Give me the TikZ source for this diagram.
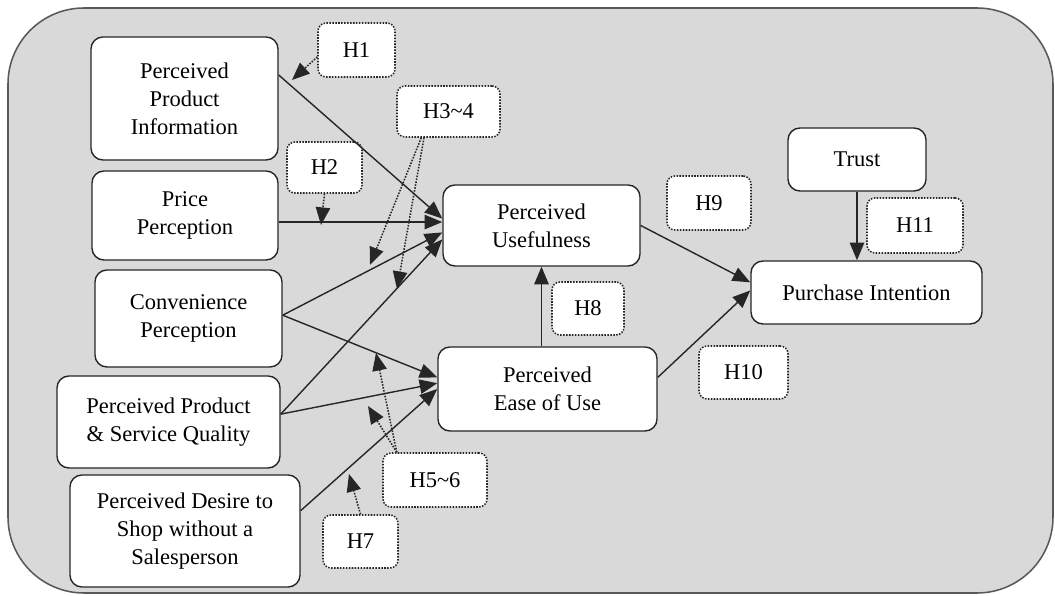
\documentclass[tikz,border=0pt]{standalone}
\usepackage{fontspec}
\setmainfont{Liberation Serif}
\usetikzlibrary{arrows.meta}

\tikzset{
  construct/.style={rectangle, rounded corners=0.3cm, draw=black!85, line width=1pt,
    fill=white, align=center, inner sep=2pt},
  hyp/.style={rectangle, rounded corners=0.2cm, draw=black!85, densely dotted,
    line width=1.1pt, fill=white, inner sep=2pt},
  link/.style={draw, black!85, line width=1pt, -{Triangle[length=4.4mm,width=3.6mm]}},
  hlink/.style={draw, black!85, densely dotted, line width=1.1pt,
    -{Triangle[length=4.4mm,width=3.6mm]}}
}

\begin{document}
\begin{tikzpicture}[x=0.025cm, y={(0cm,-0.025cm)}, font=\fontsize{16}{20}\selectfont]

      \useasboundingbox (0,0) rectangle (1055,596);
      \draw[draw=black!65, line width=1.1pt, fill=black!15, rounded corners=1.9cm]
        (8,8) rectangle (1053,593);

      \begin{scope}[every node/.style={construct}]
        \node[minimum width=4.675cm, minimum height=3.075cm] (ppi)   at (184.5,98.5) {Perceived\\Product\\Information};
        \node[minimum width=4.65cm,  minimum height=2.225cm] (price) at (185,215.5)  {Price\\Perception};
        \node[minimum width=4.675cm, minimum height=2.425cm] (conv)  at (188.5,318.5) {Convenience\\Perception};
        \node[minimum width=5.575cm, minimum height=2.3cm]   (ppsq)  at (168.5,422)  {Perceived Product\\\& Service Quality};
        \node[minimum width=5.75cm,  minimum height=2.8cm]   (pdss)  at (185,531)    {Perceived Desire to\\Shop without a\\Salesperson};
        \node[minimum width=4.925cm, minimum height=2.025cm] (pu)    at (541.5,225.5) {Perceived\\Usefulness};
        \node[minimum width=5.475cm, minimum height=2.1cm]   (peou)  at (547.5,389)  {Perceived\\Ease of Use};
        \node[minimum width=3.45cm,  minimum height=1.575cm] (trust) at (857,159.5)  {Trust};
        \node[minimum width=5.775cm, minimum height=1.575cm] (pi)    at (866.5,292.5) {Purchase Intention};
      \end{scope}

      \begin{scope}[every node/.style={hyp}]
        \node[minimum width=1.925cm, minimum height=1.35cm]  (h1)  at (356.5,50)   {H1};
        \node[minimum width=1.875cm, minimum height=1.275cm] (h2)  at (324.5,167.5) {H2};
        \node[minimum width=2.575cm, minimum height=1.275cm] (h34) at (448.5,111.5) {H3\textasciitilde 4};
        \node[minimum width=2.6cm,   minimum height=1.35cm]  (h56) at (435,480)    {H5\textasciitilde 6};
        \node[minimum width=1.875cm, minimum height=1.325cm] (h7)  at (360.5,541.5) {H7};
        \node[minimum width=1.8cm,   minimum height=1.325cm] (h8)  at (588,308.5)  {H8};
        \node[minimum width=2.1cm,   minimum height=1.35cm]  (h9)  at (709,203)    {H9};
        \node[minimum width=2.225cm, minimum height=1.325cm] (h10) at (743.5,372.5) {H10};
        \node[minimum width=2.4cm,   minimum height=1.375cm] (h11) at (915,225.5)  {H11};
      \end{scope}

      \coordinate (h1tip) at (292,80);
      \coordinate (h2tip) at (321,225);
      \coordinate (h3tip) at (370,265);
      \coordinate (h4tip) at (397,289);
      \coordinate (h5tip) at (376,353);
      \coordinate (h6tip) at (368,406);
      \coordinate (h7tip) at (349,474);

      \begin{scope}[every edge/.style={link}]
        \path (ppi.14)  edge (pu.176);
        \path (price.east |- pu.178) edge (pu.178);
        \path (conv.2)  edge (pu.184);
        \path (conv.2)  edge (peou.174);
        \path (ppsq.4)  edge (pu.188);
        \path (ppsq.4)  edge (peou.177);
        \path (pdss.10) edge (peou.west);
        \path (peou.north -| pu.south) edge (pu.south);
        \path (pu.east) edge (pi.175);
        \path (peou.6)  edge (pi.179);
        \path (trust.south) edge (trust.south |- pi.north);
      \end{scope}

      \begin{scope}[every edge/.style={hlink}]
        \path (h1.190)  edge (h1tip);
        \path (h2.south) edge (h2tip);
        \path (h34.224) edge (h3tip);
        \path (h34.227) edge (h4tip);
        \path (h56.144) edge (h5tip);
        \path (h56.144) edge (h6tip);
        \path (h7.north) edge (h7tip);
      \end{scope}

    \end{tikzpicture}
\end{document}
